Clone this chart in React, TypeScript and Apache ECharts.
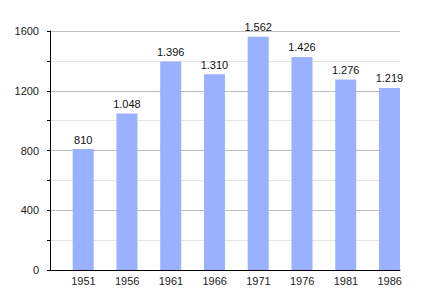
import React, { useEffect, useRef } from "react";
import * as echarts from "echarts";

const categories = ["1951", "1956", "1961", "1966", "1971", "1976", "1981", "1986"];
const population = [810, 1048, 1396, 1310, 1562, 1426, 1276, 1219];
const yTicks = [0, 400, 800, 1200, 1600];

const FONT = "'Liberation Sans', Arial, sans-serif";

function fmt(v: number): string {
  const s = String(Math.round(v));
  return s.replace(/\B(?=(\d{3})+(?!\d))/g, ".");
}

export default function App() {
  const ref = useRef<HTMLDivElement>(null);
  useEffect(() => {
    if (!ref.current) return;
    const chart = echarts.init(ref.current, undefined, { renderer: "svg" });
    chart.setOption({
      animation: false,
      backgroundColor: "#ffffff",
      grid: { left: 50, right: 30, top: 31, bottom: 30, containLabel: false },
      xAxis: {
        type: "category",
        data: categories,
        boundaryGap: true,
        axisLine: { lineStyle: { color: "#000", width: 1 } },
        axisTick: { show: false },
        axisLabel: {
          color: "#222",
          fontFamily: FONT,
          fontSize: 11,
          margin: 5,
          padding: [0, 0, 0, 23],
        },
        splitLine: { show: false },
      },
      yAxis: {
        type: "value",
        min: 0,
        max: 1600,
        interval: 200,
        axisLine: { show: true, lineStyle: { color: "#000", width: 1 } },
        axisTick: { show: true, length: 3, lineStyle: { color: "#000" } },
        axisLabel: {
          color: "#222",
          fontFamily: FONT,
          fontSize: 11,
          margin: 11,
          formatter: (v: number) => (yTicks.indexOf(v) >= 0 ? String(v) : ""),
        },
        splitLine: {
          show: true,
          lineStyle: { color: ["#bdbdbd", "#e4e4e4"], width: 1 },
        },
      },
      series: [
        {
          type: "bar",
          data: categories.map(() => null),
          barWidth: 21,
          barGap: "8%",
          silent: true,
        },
        {
          type: "bar",
          data: population,
          barWidth: 21,
          barGap: "8%",
          itemStyle: { color: "#99b1ff" },
          label: {
            show: true,
            position: "top",
            distance: 4,
            color: "#111",
            fontFamily: FONT,
            fontSize: 11,
            formatter: (p: any) => fmt(p.value),
          },
        },
      ],
    });
    return () => chart.dispose();
  }, []);
  return <div ref={ref} style={{ width: 430, height: 300, margin: -8 }} />;
}
